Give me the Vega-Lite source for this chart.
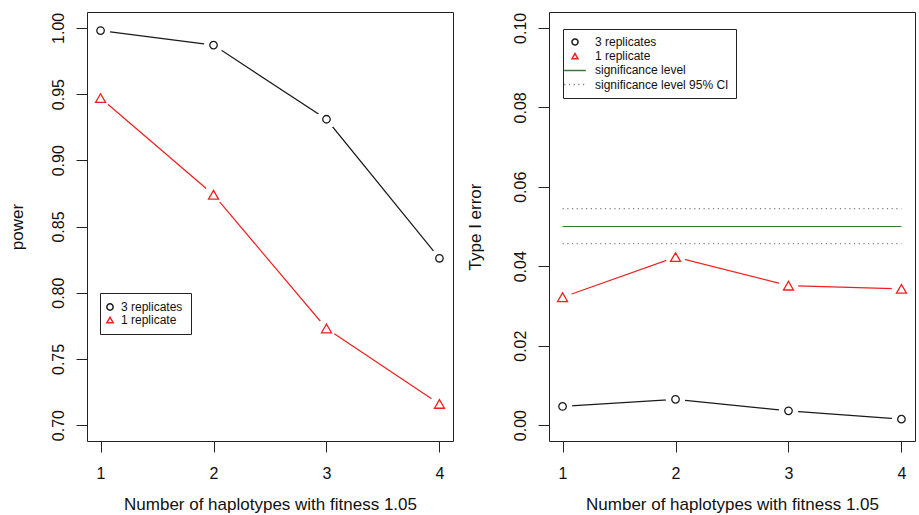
{
  "$schema": "https://vega.github.io/schema/vega-lite/v6.json",
  "background": "white",
  "padding": {"left": 7, "top": 11, "right": 4, "bottom": 0},
  "spacing": 96,
  "bounds": "flush",
  "resolve": {
    "scale": {"color": "independent", "stroke": "independent", "shape": "independent", "strokeDash": "independent", "size": "independent"},
    "legend": {"color": "independent", "stroke": "independent", "shape": "independent", "strokeDash": "independent", "size": "independent"}
  },
  "hconcat": [
    {
      "width": 366,
      "height": 429,
      "data": {
        "values": [
          {"n": 1, "value": 0.998, "series": "3 replicates"},
          {"n": 2, "value": 0.987, "series": "3 replicates"},
          {"n": 3, "value": 0.931, "series": "3 replicates"},
          {"n": 4, "value": 0.826, "series": "3 replicates"},
          {"n": 1, "value": 0.947, "series": "1 replicate"},
          {"n": 2, "value": 0.874, "series": "1 replicate"},
          {"n": 3, "value": 0.773, "series": "1 replicate"},
          {"n": 4, "value": 0.716, "series": "1 replicate"}
        ]
      },
      "encoding": {
        "x": {
          "field": "n", "type": "quantitative",
          "scale": {"domain": [0.88, 4.12], "nice": false, "zero": false},
          "axis": {"values": [1, 2, 3, 4], "format": "d", "title": "Number of haplotypes with fitness 1.05"}
        },
        "y": {
          "field": "value", "type": "quantitative",
          "scale": {"domain": [0.688, 1.012], "nice": false, "zero": false},
          "axis": {"values": [0.7, 0.75, 0.8, 0.85, 0.9, 0.95, 1.0], "format": ".2f", "title": "power"}
        }
      },
      "layer": [
        {
          "mark": {"type": "line", "strokeWidth": 1.2},
          "encoding": {
            "stroke": {
              "field": "series", "type": "nominal",
              "scale": {"domain": ["1 replicate", "3 replicates"], "range": ["#f02020", "#1a1a1a"]},
              "legend": null
            }
          }
        },
        {
          "mark": {"type": "point", "filled": true, "shape": "circle", "size": 380, "color": "white", "opacity": 1}
        },
        {
          "mark": {"type": "point", "filled": false, "strokeWidth": 1.3, "opacity": 1},
          "encoding": {
            "color": {
              "field": "series", "type": "nominal",
              "scale": {"domain": ["3 replicates", "1 replicate"], "range": ["#1a1a1a", "#f02020"]},
              "legend": {"title": null, "orient": "none", "legendX": 13, "legendY": 281, "padding": 8, "symbolSize": 40, "symbolOffset": -4, "labelOffset": 5, "rowPadding": 0}
            },
            "shape": {
              "field": "series", "type": "nominal",
              "scale": {"domain": ["3 replicates", "1 replicate"], "range": ["circle", "triangle-up"]},
              "legend": {"title": null, "orient": "none", "legendX": 13, "legendY": 281, "padding": 8, "symbolSize": 40, "symbolOffset": -4, "labelOffset": 5, "rowPadding": 0}
            },
            "size": {
              "field": "series", "type": "nominal",
              "scale": {"domain": ["1 replicate", "3 replicates"], "range": [100, 56]},
              "legend": null
            }
          }
        }
      ]
    },
    {
      "width": 366,
      "height": 429,
      "layer": [
        {
          "data": {
            "values": [
              {"value": 0.05, "series": "significance level"},
              {"value": 0.0545, "series": "significance level 95% CI"},
              {"value": 0.0457, "series": "significance level 95% CI"}
            ]
          },
          "mark": {"type": "rule", "strokeWidth": 1.2},
          "encoding": {
            "x": {"datum": 1, "type": "quantitative", "scale": {"domain": [0.88, 4.12], "nice": false, "zero": false}},
            "x2": {"datum": 4},
            "y": {"field": "value", "type": "quantitative", "scale": {"domain": [-0.004, 0.104], "nice": false, "zero": false}},
            "color": {
              "field": "series", "type": "nominal",
              "scale": {"domain": ["3 replicates", "1 replicate", "significance level", "significance level 95% CI"], "range": ["#1a1a1a", "#f02020", "#2e7d32", "#808080"]},
              "legend": {"title": null, "orient": "none", "legendX": 14, "legendY": 17, "padding": 7, "symbolSize": 36, "symbolOffset": -1, "labelOffset": 14, "rowPadding": 2.2}
            },
            "strokeDash": {
              "field": "series", "type": "nominal",
              "scale": {"domain": ["3 replicates", "1 replicate", "significance level", "significance level 95% CI"], "range": [[1, 0], [1, 0], [1, 0], [1.2, 3.5]]},
              "legend": {"title": null, "orient": "none", "legendX": 14, "legendY": 17, "padding": 7, "symbolSize": 36, "symbolOffset": -1, "labelOffset": 14, "rowPadding": 2.2}
            }
          }
        },
        {
          "data": {
            "values": [
              {"n": 1, "value": 0.0047, "series": "3 replicates"},
              {"n": 2, "value": 0.0065, "series": "3 replicates"},
              {"n": 3, "value": 0.0036, "series": "3 replicates"},
              {"n": 4, "value": 0.0015, "series": "3 replicates"},
              {"n": 1, "value": 0.0322, "series": "1 replicate"},
              {"n": 2, "value": 0.0423, "series": "1 replicate"},
              {"n": 3, "value": 0.0351, "series": "1 replicate"},
              {"n": 4, "value": 0.0343, "series": "1 replicate"}
            ]
          },
          "encoding": {
            "x": {
              "field": "n", "type": "quantitative",
              "scale": {"domain": [0.88, 4.12], "nice": false, "zero": false},
              "axis": {"values": [1, 2, 3, 4], "format": "d", "title": "Number of haplotypes with fitness 1.05"}
            },
            "y": {
              "field": "value", "type": "quantitative",
              "scale": {"domain": [-0.004, 0.104], "nice": false, "zero": false},
              "axis": {"values": [0, 0.02, 0.04, 0.06, 0.08, 0.1], "format": ".2f", "title": "Type I error", "titlePadding": 28}
            }
          },
          "layer": [
            {
              "mark": {"type": "line", "strokeWidth": 1.2},
              "encoding": {
                "stroke": {
                  "field": "series", "type": "nominal",
                  "scale": {"domain": ["1 replicate", "3 replicates"], "range": ["#f02020", "#1a1a1a"]},
                  "legend": null
                }
              }
            },
            {
              "mark": {"type": "point", "filled": true, "shape": "circle", "size": 380, "color": "white", "opacity": 1}
            },
            {
              "mark": {"type": "point", "filled": false, "strokeWidth": 1.3, "opacity": 1},
              "encoding": {
                "color": {
                  "field": "series", "type": "nominal",
                  "scale": {"domain": ["3 replicates", "1 replicate", "significance level", "significance level 95% CI"], "range": ["#1a1a1a", "#f02020", "#2e7d32", "#808080"]},
                  "legend": {"title": null, "orient": "none", "legendX": 14, "legendY": 17, "padding": 7, "symbolSize": 36, "symbolOffset": -1, "labelOffset": 14, "rowPadding": 2.2}
                },
                "shape": {
                  "field": "series", "type": "nominal",
                  "scale": {"domain": ["3 replicates", "1 replicate", "significance level", "significance level 95% CI"], "range": ["circle", "triangle-up", "M-3.6,0H3.6", "M-3.6,0H3.6"]},
                  "legend": {"title": null, "orient": "none", "legendX": 14, "legendY": 17, "padding": 7, "symbolSize": 36, "symbolOffset": -1, "labelOffset": 14, "rowPadding": 2.2}
                },
                "size": {
                  "field": "series", "type": "nominal",
                  "scale": {"domain": ["1 replicate", "3 replicates"], "range": [100, 56]},
                  "legend": null
                }
              }
            }
          ]
        }
      ]
    }
  ],
  "config": {
    "font": "Liberation Sans",
    "view": {"stroke": "#222", "strokeWidth": 1},
    "axis": {
      "domain": false, "grid": false, "ticks": true, "tickSize": 11, "tickColor": "#222", "tickWidth": 1,
      "labelFont": "Liberation Sans", "labelFontSize": 16, "labelColor": "#111", "labelFlush": false, "labelOverlap": false,
      "titleFont": "Liberation Sans", "titleFontSize": 17, "titleFontWeight": "normal", "titleColor": "#111"
    },
    "axisX": {"labelPadding": 13, "titlePadding": 15, "labelAngle": 0},
    "axisY": {"labelAngle": 270, "labelAlign": "center", "labelBaseline": "bottom", "labelPadding": 10, "titlePadding": 24, "titleBaseline": "bottom"},
    "legend": {
      "strokeColor": "#222", "fillColor": "white", "labelFont": "Liberation Sans", "labelFontSize": 12, "labelColor": "#111",
      "symbolStrokeWidth": 1.5, "symbolFillColor": "transparent"
    }
  }
}
